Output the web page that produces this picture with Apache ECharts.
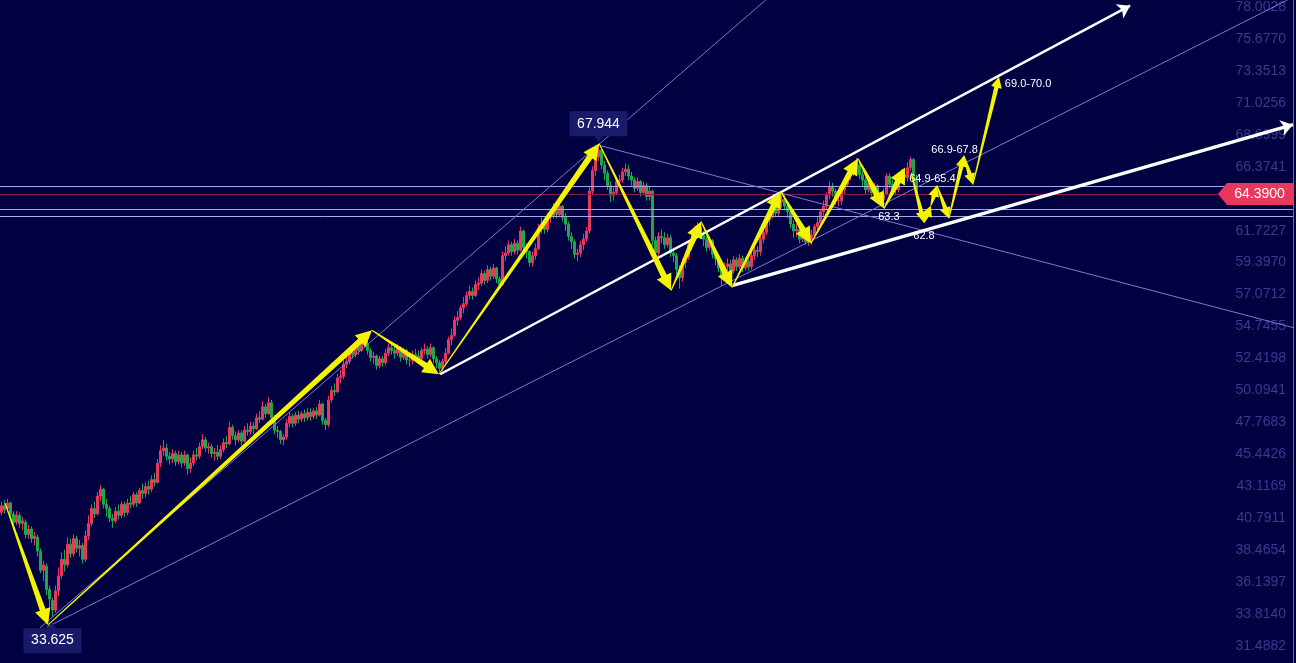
<!DOCTYPE html>
<html><head><meta charset="utf-8">
<script src="https://cdn.jsdelivr.net/npm/echarts@6/dist/echarts.min.js"></script>
<style>html,body{margin:0;padding:0;background:#010142;}#c{width:1296px;height:663px;}</style>
</head><body><div id="c"></div>
<script>
// y-axis tick labels (as shown on the right)
const yTicks = [78.0028, 75.6770, 73.3513, 71.0256, 68.6999, 66.3741, 61.7227, 59.3970, 57.0712, 54.7455, 52.4198, 50.0941, 47.7683, 45.4426, 43.1169, 40.7911, 38.4654, 36.1397, 33.8140, 31.4882];
// total slots on the time axis (candles + empty space to the right)
const slotCount = 431;
const categories = Array.from({length: slotCount}, (_, i) => String(i));
// candles: [open, close, low, high]
const candles = [
[41.2,41.7,41.0,42.0],[41.7,41.4,41.1,42.1],[41.5,41.9,41.2,42.2],[41.9,41.1,40.8,42.0],[41.1,40.5,40.3,41.3],
[40.5,41.0,40.3,41.3],[41.0,40.4,40.1,41.2],[40.4,40.6,39.9,40.9],[40.5,39.6,39.3,40.7],[39.6,40.0,39.3,40.3],
[40.0,39.3,39.0,40.2],[39.3,39.5,38.8,39.8],[39.4,38.4,38.0,39.6],[38.4,37.0,36.8,38.6],[37.0,37.4,36.2,37.7],
[37.3,35.6,35.2,37.5],[35.6,34.9,34.2,35.9],[34.8,34.1,33.625,35.0],[34.1,35.5,33.9,35.9],[35.5,36.6,35.1,37.2],
[36.6,37.8,36.4,38.3],[37.8,37.4,36.9,38.5],[37.4,38.9,37.2,39.4],[38.9,38.2,37.9,39.3],[38.2,39.3,38.0,39.6],
[39.3,38.6,38.3,39.5],[38.6,38.8,38.0,39.2],[38.8,37.8,37.5,39.0],[37.8,39.5,37.6,39.9],[39.5,40.4,39.2,41.0],
[40.4,41.5,40.2,41.8],[41.5,41.1,40.8,42.0],[41.1,42.4,41.0,42.7],[42.4,42.9,42.0,43.2],[42.9,41.8,41.5,43.0],
[41.8,41.5,40.9,42.2],[41.5,40.8,40.5,41.7],[40.8,40.6,40.1,41.1],[40.6,41.3,40.4,41.6],[41.3,41.0,40.7,41.8],
[41.0,41.8,40.8,42.0],[41.8,41.2,40.9,42.0],[41.2,41.9,41.0,42.2],[41.9,41.8,41.5,42.4],[41.8,42.5,41.6,42.7],
[42.5,41.9,41.6,42.7],[41.9,42.8,41.8,43.0],[42.8,42.6,42.2,43.3],[42.6,43.1,42.3,43.4],[43.1,42.9,42.5,43.5],
[42.9,43.6,42.7,43.9],[43.6,43.4,43.1,44.1],[43.4,44.8,43.3,45.1],[44.8,45.7,44.5,46.1],[45.7,45.9,45.3,46.5],
[45.9,45.3,45.0,46.2],[45.3,45.1,44.7,45.6],[45.1,45.5,44.8,45.8],[45.5,44.9,44.6,45.7],[44.9,45.4,44.7,45.7],
[45.4,44.8,44.5,45.6],[44.8,45.4,44.6,45.7],[45.4,44.4,44.0,45.5],[44.4,44.8,44.1,45.2],[44.8,45.4,44.6,45.7],
[45.4,45.3,45.0,45.9],[45.3,46.0,45.1,46.3],[46.0,46.5,45.8,46.9],[46.5,45.9,45.6,46.7],[45.9,46.0,45.5,46.3],
[46.0,45.5,45.2,46.2],[45.5,45.6,45.0,45.9],[45.6,45.3,45.0,46.1],[45.3,45.8,45.1,46.1],[45.8,46.3,45.6,46.6],
[46.3,46.2,45.9,46.8],[46.2,47.4,46.1,47.8],[47.4,46.8,46.5,47.6],[46.8,46.5,46.1,47.1],[46.5,47.0,46.3,47.2],
[47.0,46.4,46.1,47.2],[46.4,47.2,46.3,47.5],[47.2,47.1,46.8,47.7],[47.1,47.5,46.9,47.8],[47.5,47.3,46.9,47.8],
[47.3,48.1,47.2,48.4],[48.1,48.0,47.7,48.6],[48.0,48.9,47.9,49.3],[48.9,48.4,48.1,49.1],[48.4,49.2,48.3,49.6],
[49.2,48.1,47.8,49.4],[48.1,47.2,46.9,48.3],[47.2,47.1,46.6,47.5],[47.1,46.5,46.2,47.2],[46.5,46.7,46.1,46.9],
[46.7,47.7,46.5,48.0],[47.7,48.2,47.4,48.5],[48.2,47.7,47.4,48.4],[47.7,48.3,47.5,48.5],[48.3,48.0,47.7,48.6],
[48.0,48.4,47.8,48.6],[48.4,48.1,47.8,48.7],[48.1,48.5,47.9,48.8],[48.5,48.2,47.9,48.8],[48.2,48.6,48.0,48.8],
[48.6,48.3,48.0,48.9],[48.3,49.1,48.2,49.4],[49.1,47.9,47.6,49.2],[47.9,47.6,47.2,48.1],[47.6,49.4,47.4,49.7],
[49.4,50.1,49.2,50.4],[50.1,50.0,49.7,50.6],[50.0,51.0,49.9,51.3],[51.0,51.1,50.6,51.6],[51.1,52.0,50.9,52.3],
[52.0,52.2,51.7,52.6],[52.2,52.9,52.0,53.1],[52.9,52.7,52.4,53.3],[52.7,53.3,52.5,53.5],[53.3,53.0,52.7,53.6],
[53.0,53.7,52.9,54.0],[53.7,53.5,53.2,54.1],[53.5,53.0,52.7,53.8],[53.0,52.5,52.2,53.2],[52.5,52.6,52.0,52.9],
[52.6,51.9,51.6,52.7],[51.9,52.4,51.7,52.6],[52.4,52.1,51.8,52.6],[52.1,52.8,51.9,53.1],[52.8,53.2,52.6,53.5],
[53.2,53.0,52.7,53.6],[53.0,52.8,52.4,53.3],[52.8,53.2,52.6,53.5],[53.2,52.5,52.2,53.3],[52.5,53.0,52.3,53.2],
[53.0,52.3,52.0,53.1],[52.3,52.3,51.8,52.6],[52.3,52.7,52.0,53.0],[52.7,52.6,52.3,53.1],[52.6,52.4,52.1,53.0],
[52.4,53.0,52.2,53.2],[53.0,53.1,52.7,53.5],[53.1,52.7,52.4,53.3],[52.7,53.2,52.5,53.5],[53.2,52.4,52.1,53.3],
[52.4,52.1,51.7,52.6],[52.1,51.7,51.45,52.3],[51.7,52.2,51.5,52.4],[52.2,52.8,51.9,53.2],[52.8,53.8,52.7,54.0],
[53.8,54.1,53.4,54.6],[54.1,55.2,54.0,55.5],[55.2,55.4,54.8,55.9],[55.4,56.1,55.2,56.3],[56.1,56.4,55.7,56.9],
[56.4,57.0,56.2,57.3],[57.0,57.3,56.7,57.7],[57.3,57.0,56.7,57.6],[57.0,57.8,56.9,58.1],[57.8,57.9,57.4,58.3],
[57.9,58.6,57.7,58.9],[58.6,58.1,57.8,58.8],[58.1,58.9,57.9,59.2],[58.9,58.4,58.1,59.1],[58.4,59.0,58.2,59.3],
[59.0,58.2,57.9,59.1],[58.2,57.8,57.5,58.4],[57.8,59.9,57.7,60.2],[59.9,60.1,59.5,60.6],[60.1,60.7,59.9,61.0],
[60.7,60.2,59.9,60.9],[60.2,60.8,60.0,61.1],[60.8,60.3,60.0,61.0],[60.3,61.7,60.2,62.0],[61.7,60.5,60.2,61.8],
[60.5,60.2,59.7,60.8],[60.2,59.4,59.1,60.3],[59.4,59.9,59.1,60.2],[59.9,60.4,59.6,60.8],[60.4,61.9,60.3,62.2],
[61.9,62.2,61.5,62.7],[62.2,61.8,61.5,62.5],[61.8,62.7,61.6,63.0],[62.7,62.8,62.3,63.2],[62.8,63.4,62.6,63.7],
[63.4,62.9,62.6,63.6],[62.9,63.5,62.7,63.8],[63.5,62.7,62.4,63.6],[62.7,62.2,61.7,63.0],[62.2,61.3,61.0,62.4],
[61.3,60.9,60.4,61.6],[60.9,60.0,59.7,61.1],[60.0,60.1,59.5,60.4],[60.1,60.7,59.8,61.0],[60.7,61.1,60.3,61.5],
[61.1,61.7,60.9,62.0],[61.7,64.6,61.5,64.9],[64.6,66.1,64.3,66.4],[66.1,67.1,65.7,67.5],[67.1,67.6,66.8,67.944],
[67.6,66.5,66.2,67.8],[66.5,65.9,65.4,66.8],[65.9,65.0,64.7,66.1],[65.0,64.3,63.8,65.3],[64.3,64.5,63.9,64.9],
[64.5,65.3,64.3,65.6],[65.3,65.4,64.9,65.8],[65.4,66.0,65.2,66.3],[66.0,66.2,65.7,66.6],[66.2,65.7,65.4,66.5],
[65.7,65.4,65.0,66.0],[65.4,64.8,64.5,65.6],[64.8,65.3,64.6,65.6],[65.3,64.5,64.2,65.4],[64.5,65.0,64.3,65.3],
[65.0,64.2,63.9,65.2],[64.2,64.6,63.9,64.9],[64.6,61.0,60.6,64.7],[61.0,60.1,59.5,61.3],[60.1,61.3,59.8,61.6],
[61.3,61.2,60.8,61.8],[61.2,60.7,60.4,61.6],[60.7,61.2,60.5,61.5],[61.2,60.1,59.8,61.4],[60.1,59.9,59.4,60.5],
[59.9,58.9,58.5,60.1],[58.9,58.3,57.5,59.2],[58.3,59.4,58.0,59.7],[59.4,59.8,59.0,60.2],[59.8,60.7,59.6,61.0],
[60.7,61.1,60.3,61.5],[61.1,61.8,60.9,62.1],[61.8,61.9,61.4,62.35],[61.9,61.4,61.1,62.2],[61.4,61.1,60.6,61.7],
[61.1,60.5,60.2,61.3],[60.5,61.0,60.3,61.3],[61.0,60.0,59.7,61.1],[60.0,59.7,59.2,60.3],[59.7,59.0,58.7,59.9],
[59.0,58.5,57.7,59.3],[58.5,59.1,58.2,59.4],[59.1,59.3,58.8,59.7],[59.3,58.8,58.5,59.6],[58.8,59.6,58.6,59.9],
[59.6,59.1,58.8,59.8],[59.1,59.7,58.9,60.0],[59.7,59.0,58.7,59.9],[59.0,59.5,58.8,59.8],[59.5,59.1,58.8,59.7],
[59.1,59.9,58.9,60.2],[59.9,60.3,59.6,60.7],[60.3,60.2,59.8,60.6],[60.2,61.1,59.9,61.4],[61.1,61.6,60.8,62.0],
[61.6,62.5,61.4,62.8],[62.5,62.8,62.1,63.2],[62.8,63.5,62.6,63.8],[63.5,63.0,62.7,63.7],[63.0,63.8,62.8,64.1],
[63.8,64.0,63.4,64.6],[64.0,63.5,63.2,64.3],[63.5,63.1,62.6,63.8],[63.1,62.2,61.9,63.3],[62.2,61.7,61.2,62.5],
[61.7,61.8,61.3,62.2],[61.8,61.1,60.8,62.0],[61.1,61.7,60.9,61.9],[61.7,60.9,60.7,61.8],[60.9,61.0,60.6,61.3],
[61.0,61.4,60.7,61.8],[61.4,62.0,61.2,62.2],[62.0,62.3,61.7,62.7],[62.3,63.1,62.1,63.3],[63.1,63.5,62.8,63.9],
[63.5,64.3,63.3,64.5],[64.3,64.9,64.0,65.3],[64.9,64.6,64.2,65.2],[64.6,63.9,63.6,64.8],[63.9,63.9,63.5,64.3],
[63.9,64.7,63.6,64.9],[64.7,65.1,64.4,65.5],[65.1,65.8,64.9,66.0],[65.8,65.9,65.4,66.3],[65.9,66.5,65.7,66.7],
[66.5,66.5,66.1,67.0],[66.5,65.8,65.5,66.8],[65.8,65.4,64.9,66.1],[65.4,64.7,64.4,65.6],[64.7,65.2,64.5,65.4],
[65.2,64.5,64.2,65.3],[64.5,65.0,64.3,65.2],[65.0,64.2,63.9,65.1],[64.2,64.0,63.5,64.5],[64.0,64.4,63.7,64.8],
[64.4,65.7,64.3,65.9],[65.7,65.1,64.8,65.9],[65.1,64.7,64.3,65.4],[64.7,64.7,64.3,65.1],[64.7,65.5,64.5,65.8],
[65.5,65.8,65.2,66.2],[65.8,65.6,65.2,66.1],[65.6,66.3,65.3,66.7],[66.3,66.9,66.1,67.1],[66.9,65.5,65.3,67.0],
[65.5,64.39,64.1,65.8]
];
// wave path drawn by the analyst: [slot, price]
const wavePath = [[1.2,41.89],[15.5,33.02],[123.5,54.47],[145.8,51.27],[199.2,68.06],[223.2,57.37],[233.2,62.39],[243.5,57.59],[259.8,64.57],[269.8,60.79],[285.5,66.97],[294.2,63.34],[301.2,66.32]];
// forecast path
const forecastPath = [[303.2,65.95],[307.5,62.30],[309.8,63.55],[311.8,65.01],[315.8,62.61],[320.8,67.19],[323.8,65.08],[332.5,72.93]];
// forecast labels: [slot, price, text]
const forecastLabels = [[295.8,62.70,'63.3'],[307.5,61.37,'62.8'],[310.3,65.45,'64.9-65.4'],[317.7,67.61,'66.9-67.8'],[342.2,72.43,'69.0-70.0']];
// thin trend lines: [[slot, price],[slot, price]]
const trendLines = [
  [[12.8,32.80],[262.2,79.92]],
  [[15.2,32.87],[431.5,78.83]],
  [[199,67.944],[431.5,54.61]]
];
// horizontal levels
const levels = [64.95, 63.3, 62.8];
// white channel arrows
const channelArrows = [
  [[146.2,51.27],[376.2,78.10]],
  [[243.8,57.74],[430.5,69.44]]
];

const lastClose = candles[candles.length-1][1];

function arrowShape(p1, p2, w0, w1, hw, hl) {
  const dx = p2[0]-p1[0], dy = p2[1]-p1[1];
  const len = Math.hypot(dx, dy) || 1;
  const ux = dx/len, uy = dy/len, nx = -uy, ny = ux;
  const bx = p2[0]-ux*hl, by = p2[1]-uy*hl;
  return [
    [p1[0]+nx*w0, p1[1]+ny*w0], [bx+nx*w1, by+ny*w1], [bx+nx*hw, by+ny*hw], [p2[0], p2[1]],
    [bx-nx*hw, by-ny*hw], [bx-nx*w1, by-ny*w1], [p1[0]-nx*w0, p1[1]-ny*w0]
  ];
}
const yellowArrows = [];
for (let i = 0; i + 1 < wavePath.length; i++) yellowArrows.push([wavePath[i][0], wavePath[i][1], wavePath[i+1][0], wavePath[i+1][1], 1]);
for (let i = 0; i + 1 < forecastPath.length; i++) yellowArrows.push([forecastPath[i][0], forecastPath[i][1], forecastPath[i+1][0], forecastPath[i+1][1], 0]);

const FONT = '"Liberation Sans", Arial, sans-serif';
const chart = echarts.init(document.getElementById('c'));
chart.setOption({
  animation: false,
  backgroundColor: '#010142',
  grid: {left: 0, right: 3, top: 0, bottom: 0},
  xAxis: [
    {type: 'category', data: categories, show: false, boundaryGap: true},
    {type: 'value', min: -0.5, max: slotCount - 0.5, show: false}
  ],
  yAxis: {
    type: 'value', position: 'right', min: 30.25, max: 78.46,
    axisLine: {show: true, onZero: false, lineStyle: {color: '#b85a30', width: 1}},
    axisTick: {show: false}, splitLine: {show: false},
    axisLabel: {inside: true, customValues: yTicks, formatter: v => v.toFixed(4), color: '#3a3a92', fontSize: 14, fontFamily: FONT, margin: 7}
  },
  series: [
    {
      type: 'candlestick', xAxisIndex: 0, data: candles, barWidth: 1.6, z: 2,
      itemStyle: {color: '#e8385c', color0: '#1fa84a', borderColor: '#e8385c', borderColor0: '#1fa84a', borderWidth: 1},
      markPoint: {
        z: 20, silent: true,
        data: [
          {type: 'max', valueDim: 'highest', symbol: 'path://M0,0 L58,0 L58,25 L33,25 L29,31 L25,25 L0,25 Z', symbolSize: [58,31], symbolKeepAspect: false, symbolOffset: [0,-18.5],
            itemStyle: {color: '#1a1a6a'}, label: {show: true, formatter: p => p.value.toFixed(3), color: '#ffffff', fontSize: 14, fontFamily: FONT, offset: [0,-3]}},
          {type: 'min', valueDim: 'lowest', symbol: 'path://M0,6 L25,6 L29,0 L33,6 L58,6 L58,31 L0,31 Z', symbolSize: [58,31], symbolKeepAspect: false, symbolOffset: [0,21],
            itemStyle: {color: '#1a1a6a'}, label: {show: true, formatter: p => p.value.toFixed(3), color: '#ffffff', fontSize: 14, fontFamily: FONT, offset: [0,3]}},
          {coord: [slotCount - 13, lastClose], value: lastClose, symbol: 'path://M0,11 L9,0 L75,0 L75,22 L9,22 Z', symbolSize: [75,22], symbolKeepAspect: false,
            itemStyle: {color: '#e8385c'}, label: {show: true, formatter: p => p.value.toFixed(4), color: '#ffffff', fontSize: 14, fontFamily: FONT, offset: [4,0]}}
        ]
      }
    },
    {
      type: 'lines', coordinateSystem: 'cartesian2d', xAxisIndex: 1, yAxisIndex: 0, z: 3, silent: true,
      lineStyle: {color: '#8a1c44', width: 1, opacity: 1},
      data: [{coords: [[-0.5, lastClose],[slotCount - 0.5, lastClose]]}]
    },
    {
      type: 'lines', coordinateSystem: 'cartesian2d', xAxisIndex: 1, yAxisIndex: 0, z: 3, silent: true,
      lineStyle: {color: '#a8a8f2', width: 1, opacity: 1},
      data: levels.map(v => ({coords: [[-0.5, v],[slotCount - 0.5, v]]}))
    },
    {
      type: 'lines', coordinateSystem: 'cartesian2d', xAxisIndex: 1, yAxisIndex: 0, z: 3, silent: true,
      lineStyle: {color: '#7a7ad8', width: 1, opacity: 1},
      data: trendLines.map(c => ({coords: c}))
    },
    {
      type: 'lines', coordinateSystem: 'cartesian2d', xAxisIndex: 1, yAxisIndex: 0, z: 4, silent: true,
      symbol: ['none', 'arrow'], symbolSize: 12,
      lineStyle: {color: '#ffffff', width: 2.5, opacity: 1},
      data: channelArrows.map((c, i) => ({coords: c, lineStyle: {width: i === 0 ? 2.5 : 3.2}}))
    },
    {
      type: 'custom', xAxisIndex: 1, yAxisIndex: 0, z: 6, silent: true,
      data: yellowArrows, encode: {x: [0, 2], y: [1, 3]},
      renderItem: (params, api) => {
        const p1 = api.coord([api.value(0), api.value(1)]);
        const p2 = api.coord([api.value(2), api.value(3)]);
        const big = api.value(4) === 1;
        return {type: 'polygon', shape: {points: arrowShape(p1, p2, 0.5, big ? 3.0 : 2.2, big ? 8 : 5.5, big ? 16 : 11)}, style: {fill: '#f4f400'}};
      }
    },
    {
      type: 'custom', xAxisIndex: 1, yAxisIndex: 0, z: 7, silent: true,
      data: forecastLabels.map(d => [d[0], d[1]]),
      renderItem: (params, api) => {
        const p = api.coord([api.value(0), api.value(1)]);
        return {type: 'text', x: p[0], y: p[1], style: {text: forecastLabels[params.dataIndex][2], fill: '#ffffff', font: '11px ' + FONT, align: 'center', verticalAlign: 'middle'}};
      }
    }
  ]
});
</script></body></html>
